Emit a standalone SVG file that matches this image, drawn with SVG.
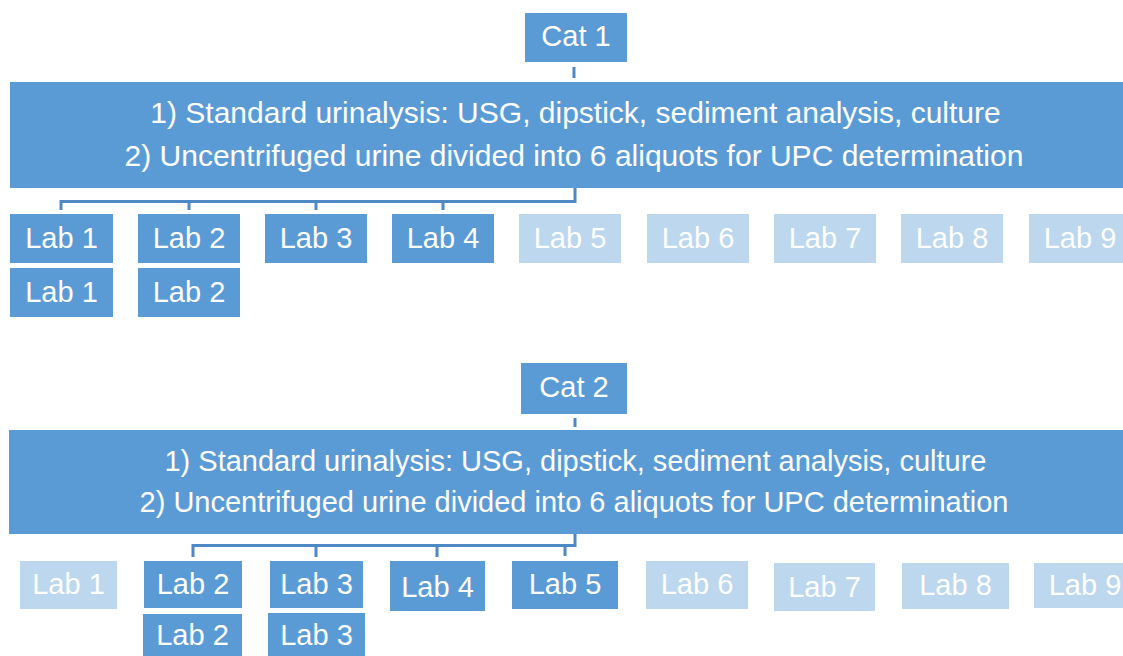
<svg xmlns="http://www.w3.org/2000/svg" width="1123" height="656" viewBox="0 0 1123 656">
  <style>
    .box { fill: #5B9BD5; }
    .off { fill: #BDD7EE; }
    .t { font-family: "Liberation Sans", Arial, sans-serif; fill: #FFFFFF; text-anchor: middle; }
    .lab { font-size: 29px; }
    .big1 { font-size: 30px; }
    .big2 { font-size: 29px; }
    .link { fill: none; stroke: #4E89C6; stroke-width: 3; stroke-linecap: butt; stroke-linejoin: miter; }
  </style>
  <rect width="1123" height="656" fill="#FFFFFF"/>

  <!-- Cat 1 -->
  <g id="cat1">
    <rect class="box" x="525" y="13" width="102" height="49"/>
    <text class="t lab" x="576" y="46">Cat 1</text>
  </g>
  <g id="protocol1">
    <rect class="box" x="10" y="82" width="1113" height="106"/>
    <text class="t big1" x="575.5" y="123">1) Standard urinalysis: USG, dipstick, sediment analysis, culture</text>
    <text class="t big1" x="574" y="166">2) Uncentrifuged urine divided into 6 aliquots for UPC determination</text>
  </g>
  <g id="c1-lab1"><rect class="box" x="10" y="214" width="103" height="49"/><text class="t lab" x="61.5" y="248">Lab 1</text></g>
  <g id="c1-lab2"><rect class="box" x="138" y="214" width="102" height="49"/><text class="t lab" x="189" y="248">Lab 2</text></g>
  <g id="c1-lab3"><rect class="box" x="265" y="214" width="102" height="49"/><text class="t lab" x="316" y="248">Lab 3</text></g>
  <g id="c1-lab4"><rect class="box" x="392" y="214" width="102" height="49"/><text class="t lab" x="443" y="248">Lab 4</text></g>
  <g id="c1-lab5"><rect class="off" x="519" y="214" width="102" height="49"/><text class="t lab" x="570" y="248">Lab 5</text></g>
  <g id="c1-lab6"><rect class="off" x="647" y="214" width="102" height="49"/><text class="t lab" x="698" y="248">Lab 6</text></g>
  <g id="c1-lab7"><rect class="off" x="774" y="214" width="102" height="49"/><text class="t lab" x="825" y="248">Lab 7</text></g>
  <g id="c1-lab8"><rect class="off" x="901" y="214" width="102" height="49"/><text class="t lab" x="952" y="248">Lab 8</text></g>
  <g id="c1-lab9"><rect class="off" x="1029" y="214" width="102" height="49"/><text class="t lab" x="1080" y="248">Lab 9</text></g>
  <g id="c1-lab1b"><rect class="box" x="10" y="268" width="103" height="49"/><text class="t lab" x="61.5" y="302">Lab 1</text></g>
  <g id="c1-lab2b"><rect class="box" x="138" y="268" width="102" height="49"/><text class="t lab" x="189" y="302">Lab 2</text></g>

  <!-- Cat 2 -->
  <g id="cat2">
    <rect class="box" x="521" y="363" width="106" height="51"/>
    <text class="t lab" x="574" y="397">Cat 2</text>
  </g>
  <g id="protocol2">
    <rect class="box" x="9" y="430" width="1114" height="104"/>
    <text class="t big2" x="575.5" y="471">1) Standard urinalysis: USG, dipstick, sediment analysis, culture</text>
    <text class="t big2" x="574" y="512">2) Uncentrifuged urine divided into 6 aliquots for UPC determination</text>
  </g>
  <g id="c2-lab1"><rect class="off" x="20" y="561" width="97" height="48"/><text class="t lab" x="68.5" y="594">Lab 1</text></g>
  <g id="c2-lab2"><rect class="box" x="144" y="561" width="98" height="47"/><text class="t lab" x="193" y="594">Lab 2</text></g>
  <g id="c2-lab3"><rect class="box" x="270" y="561" width="93" height="47"/><text class="t lab" x="316.5" y="594">Lab 3</text></g>
  <g id="c2-lab4"><rect class="box" x="390" y="561" width="95" height="50"/><text class="t lab" x="437.5" y="597">Lab 4</text></g>
  <g id="c2-lab5"><rect class="box" x="512" y="561" width="106" height="48"/><text class="t lab" x="565" y="594">Lab 5</text></g>
  <g id="c2-lab6"><rect class="off" x="646" y="561" width="102" height="48"/><text class="t lab" x="697" y="594">Lab 6</text></g>
  <g id="c2-lab7"><rect class="off" x="774" y="563" width="101" height="48"/><text class="t lab" x="824.5" y="597">Lab 7</text></g>
  <g id="c2-lab8"><rect class="off" x="902" y="563" width="107" height="46"/><text class="t lab" x="955.5" y="595">Lab 8</text></g>
  <g id="c2-lab9"><rect class="off" x="1034" y="563" width="102" height="45"/><text class="t lab" x="1085" y="595">Lab 9</text></g>
  <g id="c2-lab2b"><rect class="box" x="143" y="614" width="99" height="50"/><text class="t lab" x="192.5" y="645">Lab 2</text></g>
  <g id="c2-lab3b"><rect class="box" x="268" y="613" width="97" height="51"/><text class="t lab" x="316.5" y="645">Lab 3</text></g>

  <!-- connectors -->
  <g id="connectors">
    <path class="link" d="M574 67 V78"/>
    <path class="link" d="M575 188 V201.5 H61 M61 200 V210 M189 200 V210 M316 200 V210 M443 200 V210"/>
    <path class="link" d="M575 418 V427"/>
    <path class="link" d="M575 534 V545.5 H193 M193 544 V557 M316 544 V557 M437 544 V557 M565 544 V556"/>
  </g>
</svg>
